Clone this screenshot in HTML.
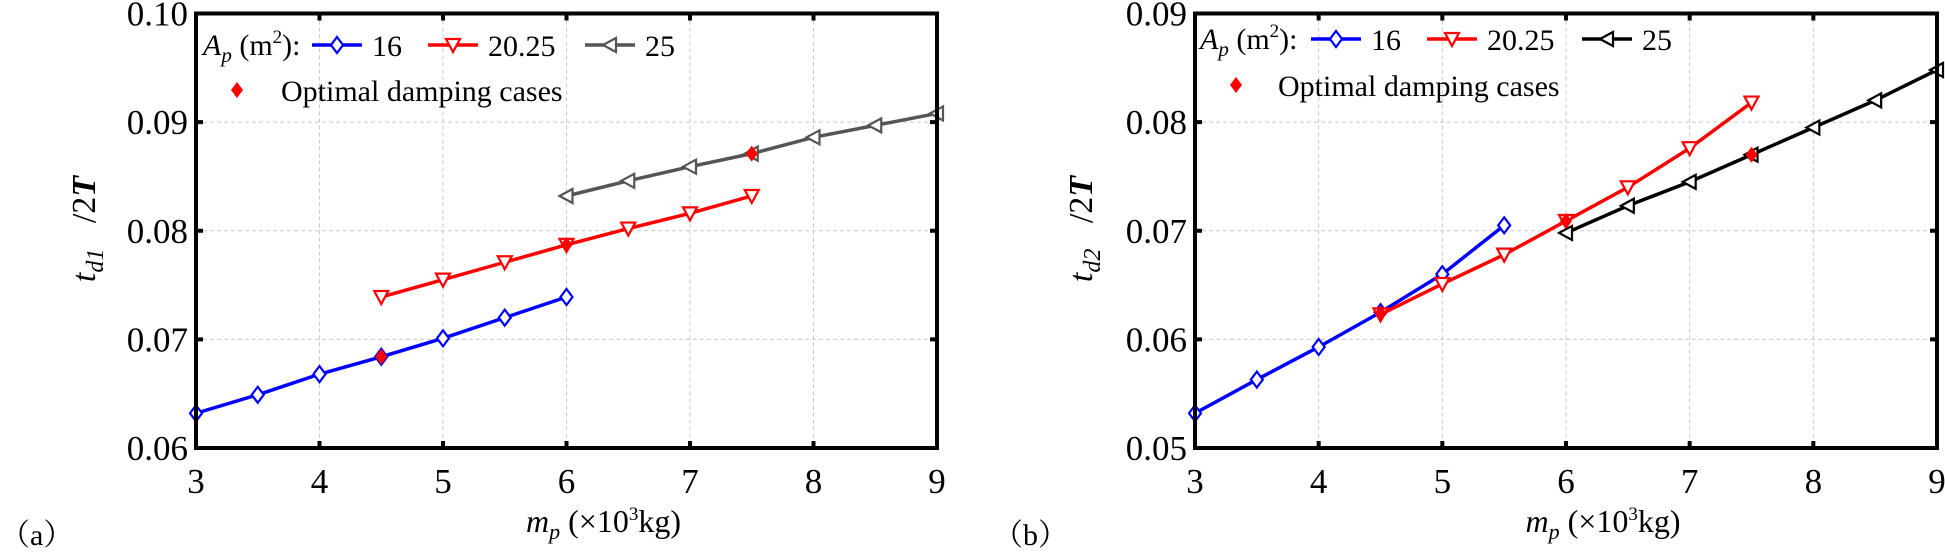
<!DOCTYPE html>
<html><head><meta charset="utf-8">
<style>
html,body{margin:0;padding:0;background:#fff;}
svg{display:block;}
svg text{font-family:"Liberation Serif","Times New Roman",Times,"Nimbus Roman","DejaVu Serif","Noto Serif CJK SC",serif;}
</style></head>
<body>
<svg id="s" width="1945" height="553" xmlns="http://www.w3.org/2000/svg"></svg>
<script>
const S=document.getElementById('s');let h='';
function panel(L,R,T,B,y0,y1,series,opt,leg,lab,labx){
  const X=v=>L+(v-3)/6*(R-L), Y=v=>B-(v-y0)/(y1-y0)*(B-T);
  for(let i=4;i<=8;i++) h+=`<line x1="${X(i)}" y1="${T}" x2="${X(i)}" y2="${B}" stroke="#c8c8c8" stroke-width="1" stroke-dasharray="4,3"/>`;
  for(let k=1;k<4;k++){const yy=T+k*(B-T)/4;h+=`<line x1="${L}" y1="${yy}" x2="${R}" y2="${yy}" stroke="#c8c8c8" stroke-width="1" stroke-dasharray="4,3"/>`;}
  for(let i=3;i<=9;i++){h+=`<line x1="${X(i)}" y1="${B}" x2="${X(i)}" y2="${B-7}" stroke="#000" stroke-width="4"/><line x1="${X(i)}" y1="${T}" x2="${X(i)}" y2="${T+7}" stroke="#000" stroke-width="4"/>`;
    h+=`<text x="${X(i)}" y="${B+45}" font-size="35" text-anchor="middle">${i}</text>`;}
  for(let k=0;k<=4;k++){const yy=T+k*(B-T)/4;h+=`<line x1="${L}" y1="${yy}" x2="${L+7}" y2="${yy}" stroke="#000" stroke-width="4"/><line x1="${R}" y1="${yy}" x2="${R-7}" y2="${yy}" stroke="#000" stroke-width="4"/>`;
    h+=`<text x="${L-8}" y="${yy+12}" font-size="35" text-anchor="end">${(y1-k*(y1-y0)/4).toFixed(2)}</text>`;}
  for(const s of series){
    const pts=s.d.map((v,i)=>[X(s.x0+i*0.5),Y(v)]);
    h+=`<polyline points="${pts.map(p=>p.join(',')).join(' ')}" fill="none" stroke="${s.c}" stroke-width="3.5"/>`;
    for(const p of pts) h+=marker(s.m,p[0],p[1],s.c);
  }
  for(const o of opt) h+=`<polygon points="${X(o[0])},${Y(o[1])-8} ${X(o[0])+6},${Y(o[1])} ${X(o[0])},${Y(o[1])+8} ${X(o[0])-6},${Y(o[1])}" fill="#f00"/>`;
  h+=`<rect x="${L}" y="${T}" width="${R-L}" height="${B-T}" fill="none" stroke="#000" stroke-width="4"/>`;
  const ly=leg.y;
  h+=`<text x="${leg.ax}" y="${ly+10}" font-size="30"><tspan font-style="italic">A</tspan><tspan font-style="italic" font-size="21" dy="7">p</tspan><tspan dy="-7"> (m</tspan><tspan font-size="19" dy="-12">2</tspan><tspan dy="12">):</tspan></text>`;
  for(const e of leg.e){h+=`<line x1="${e.x-25}" y1="${ly}" x2="${e.x+25}" y2="${ly}" stroke="${e.c}" stroke-width="3.5"/>`+marker(e.m,e.x,ly,e.c)+`<text x="${e.x+35}" y="${ly+11}" font-size="30">${e.t}</text>`;}
  h+=`<polygon points="${leg.dx},${leg.dy-8} ${leg.dx+6},${leg.dy} ${leg.dx},${leg.dy+8} ${leg.dx-6},${leg.dy}" fill="#f00"/><text x="${leg.tx}" y="${leg.dy+11}" font-size="30">Optimal damping cases</text>`;
  h+=`<text x="${(L+R)/2+37}" y="532" font-size="32" text-anchor="middle"><tspan font-style="italic">m</tspan><tspan font-style="italic" font-size="22" dy="7">p</tspan><tspan dy="-7"> (×10</tspan><tspan font-size="19" dy="-12">3</tspan><tspan dy="12">kg)</tspan></text>`;
  h+=`<text transform="translate(${labx},229) rotate(-90)" font-size="34" text-anchor="middle"><tspan font-style="italic">t</tspan><tspan font-style="italic" font-size="24" dy="8">${lab}</tspan><tspan dy="-8" xml:space="preserve">   /2</tspan><tspan font-style="italic" font-weight="bold">T</tspan></text>`;
}
function marker(m,x,y,c){
  if(m=='d')return `<polygon points="${x},${y-8} ${x+6},${y} ${x},${y+8} ${x-6},${y}" fill="#fff" stroke="${c}" stroke-width="2.2"/>`;
  if(m=='v')return `<polygon points="${x-7},${y-6} ${x+7},${y-6} ${x},${y+7}" fill="#fff" stroke="${c}" stroke-width="2.2"/>`;
  return `<polygon points="${x-7},${y} ${x+6},${y-7} ${x+6},${y+7}" fill="#fff" stroke="${c}" stroke-width="2.2"/>`;
}
panel(196,937,13.5,448,0.06,0.10,[
 {x0:3,d:[0.0632,0.0649,0.0668,0.0684,0.0701,0.0720,0.0739],c:'#0000ff',m:'d'},
 {x0:4.5,d:[0.0739,0.0755,0.0771,0.0787,0.0802,0.0816,0.0832],c:'#ff0000',m:'v'},
 {x0:6,d:[0.0832,0.0846,0.0859,0.0871,0.0886,0.0897,0.0908],c:'#555555',m:'l'}],
 [[4.5,0.0684],[6,0.0787],[7.5,0.0871]],
 {y:45,ax:203,e:[{x:337,c:'#0000ff',m:'d',t:'16'},{x:453,c:'#ff0000',m:'v',t:'20.25'},{x:610,c:'#555555',m:'l',t:'25'}],dx:237,dy:90,tx:281},'d1',95);
panel(1195,1937,13.5,448,0.05,0.09,[
 {x0:3,d:[0.0532,0.0563,0.0593,0.0625,0.0660,0.0705],c:'#0000ff',m:'d'},
 {x0:4.5,d:[0.0623,0.0651,0.0678,0.0709,0.0740,0.0776,0.0818],c:'#ff0000',m:'v'},
 {x0:6,d:[0.0698,0.0723,0.0745,0.0770,0.0795,0.0820,0.0848],c:'#000000',m:'l'}],
 [[4.5,0.0624],[6,0.0709],[7.5,0.0770]],
 {y:39,ax:1200,e:[{x:1336,c:'#0000ff',m:'d',t:'16'},{x:1452,c:'#ff0000',m:'v',t:'20.25'},{x:1607,c:'#000000',m:'l',t:'25'}],dx:1236,dy:85,tx:1278},'d2',1092);
h+=`<text x="0" y="545" font-size="30">（a）</text><text x="993" y="545" font-size="30">（b）</text>`;
S.innerHTML=h;
</script>
</body></html>
